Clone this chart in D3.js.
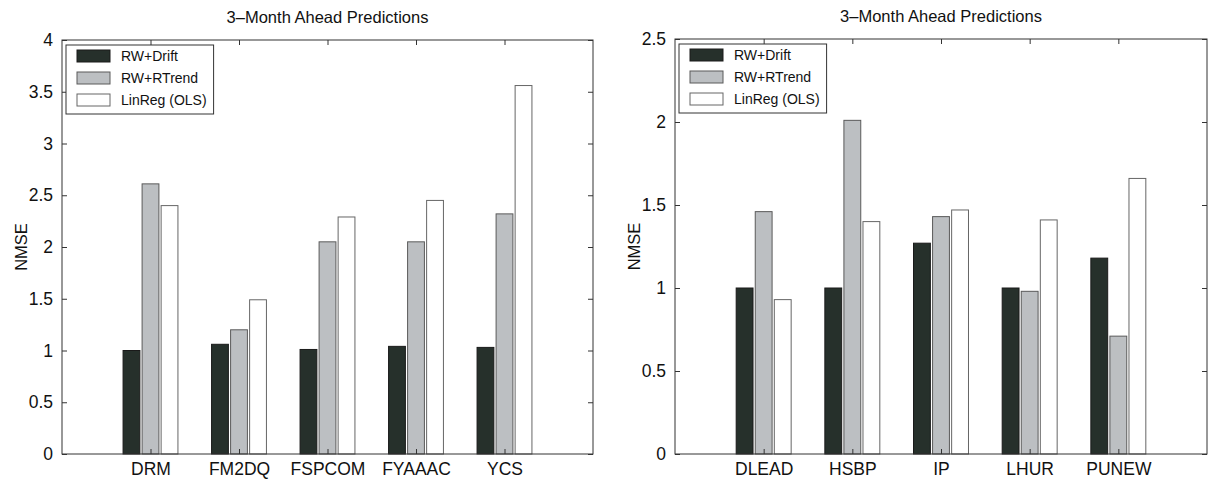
<!DOCTYPE html>
<html>
<head>
<meta charset="utf-8">
<script src="https://cdn.jsdelivr.net/npm/d3@7"></script>
<style>
  body { margin: 0; background: #fff; }
  text { font-family: "Liberation Sans", Arial, sans-serif; fill: #111; }
</style>
</head>
<body>
<div id="chart"></div>
<script>
// series names
const seriesNames = ["RW+Drift", "RW+RTrend", "LinReg (OLS)"];

// left panel
const leftCats = ["DRM", "FM2DQ", "FSPCOM", "FYAAAC", "YCS"];
const leftDrift  = [1.00, 1.06, 1.01, 1.04, 1.03];
const leftRTrend = [2.61, 1.20, 2.05, 2.05, 2.32];
const leftOLS    = [2.40, 1.49, 2.29, 2.45, 3.56];
const leftTicks  = [0, 0.5, 1, 1.5, 2, 2.5, 3, 3.5, 4];

// right panel
const rightCats = ["DLEAD", "HSBP", "IP", "LHUR", "PUNEW"];
const rightDrift  = [1.00, 1.00, 1.27, 1.00, 1.18];
const rightRTrend = [1.46, 2.01, 1.43, 0.98, 0.71];
const rightOLS    = [0.93, 1.40, 1.47, 1.41, 1.66];
const rightTicks  = [0, 0.5, 1, 1.5, 2, 2.5];

const width = 1209;
const height = 481;

const fills = ["#26302b", "#bcbfc2", "#ffffff"];
const strokes = ["#1a1a1a", "#5a5a5a", "#666"];

const svg = d3.select("#chart")
  .append("svg")
  .attr("width", width)
  .attr("height", height);

function drawPanel(opts) {
  const g = svg.append("g");

  const x = d3.scaleLinear()
    .domain([0, opts.cats.length + 1])
    .range([opts.left, opts.right]);

  const y = d3.scaleLinear()
    .domain([0, opts.ticks[opts.ticks.length - 1]])
    .range([opts.bottom, opts.top]);

  const series = [opts.drift, opts.rtrend, opts.ols];
  const offsets = [-0.215, 0, 0.215];
  const barW = 0.19;

  // bars
  series.forEach((vals, s) => {
    g.selectAll(".bar" + s)
      .data(vals)
      .enter()
      .append("rect")
      .attr("x", (d, i) => x(i + 1 + offsets[s] - barW / 2))
      .attr("y", d => y(d))
      .attr("width", x(barW) - x(0))
      .attr("height", d => y(0) - y(d))
      .attr("fill", fills[s])
      .attr("stroke", strokes[s])
      .attr("stroke-width", 1);
  });

  // frame
  g.append("rect")
    .attr("x", opts.left)
    .attr("y", opts.top)
    .attr("width", opts.right - opts.left)
    .attr("height", opts.bottom - opts.top)
    .attr("fill", "none")
    .attr("stroke", "#333")
    .attr("stroke-width", 1);

  // y axis (ticks inside) + mirrored right ticks
  g.append("g")
    .attr("transform", `translate(${opts.left},0)`)
    .call(d3.axisLeft(y).tickValues(opts.ticks).tickSize(-5).tickPadding(9)
      .tickFormat(d3.format("")))
    .call(a => a.select(".domain").remove())
    .call(a => a.selectAll("text").style("font-size", "17.5px"))
    .call(a => a.selectAll("line").attr("stroke", "#333"));

  g.append("g")
    .attr("transform", `translate(${opts.right},0)`)
    .call(d3.axisRight(y).tickValues(opts.ticks).tickSize(-5).tickFormat(""))
    .call(a => a.select(".domain").remove())
    .call(a => a.selectAll("line").attr("stroke", "#333"));

  // x axis (categories) + top ticks
  const catPos = opts.cats.map((c, i) => i + 1);
  g.append("g")
    .attr("transform", `translate(0,${opts.bottom})`)
    .call(d3.axisBottom(x).tickValues(catPos).tickSize(-5).tickPadding(9)
      .tickFormat((d, i) => opts.cats[i]))
    .call(a => a.select(".domain").remove())
    .call(a => a.selectAll("text").style("font-size", "17.5px"))
    .call(a => a.selectAll("line").attr("stroke", "#333"));

  g.append("g")
    .attr("transform", `translate(0,${opts.top})`)
    .call(d3.axisTop(x).tickValues(catPos).tickSize(-5).tickFormat(""))
    .call(a => a.select(".domain").remove())
    .call(a => a.selectAll("line").attr("stroke", "#333"));

  // title
  g.append("text")
    .attr("x", (opts.left + opts.right) / 2)
    .attr("y", opts.top - 17)
    .attr("text-anchor", "middle")
    .style("font-size", "16.5px")
    .text("3\u2013Month Ahead Predictions");

  // y label
  g.append("text")
    .attr("transform", `translate(${opts.left - 35},${(opts.top + opts.bottom) / 2}) rotate(-90)`)
    .attr("text-anchor", "middle")
    .style("font-size", "16.5px")
    .text("NMSE");

  // legend
  const lg = g.append("g")
    .attr("transform", `translate(${opts.left + 4},${opts.top + 5})`);
  const box = lg.append("rect")
    .attr("fill", "#fff")
    .attr("stroke", "#333")
    .attr("stroke-width", 1);
  let maxW = 0;
  seriesNames.forEach((name, s) => {
    const cy = 11 + s * 22;
    lg.append("rect")
      .attr("x", 11)
      .attr("y", cy - 6)
      .attr("width", 33)
      .attr("height", 12)
      .attr("fill", fills[s])
      .attr("stroke", strokes[s]);
    const t = lg.append("text")
      .attr("x", 55)
      .attr("y", cy)
      .attr("dy", "0.36em")
      .style("font-size", "14px")
      .text(name);
    maxW = Math.max(maxW, t.node().getComputedTextLength());
  });
  box.attr("x", 0).attr("y", 0)
    .attr("width", 55 + maxW + 7)
    .attr("height", 69);
}

drawPanel({
  cats: leftCats, drift: leftDrift, rtrend: leftRTrend, ols: leftOLS,
  ticks: leftTicks, left: 62, right: 593, top: 40, bottom: 454
});

drawPanel({
  cats: rightCats, drift: rightDrift, rtrend: rightRTrend, ols: rightOLS,
  ticks: rightTicks, left: 675, right: 1207, top: 39, bottom: 454
});
</script>
</body>
</html>
